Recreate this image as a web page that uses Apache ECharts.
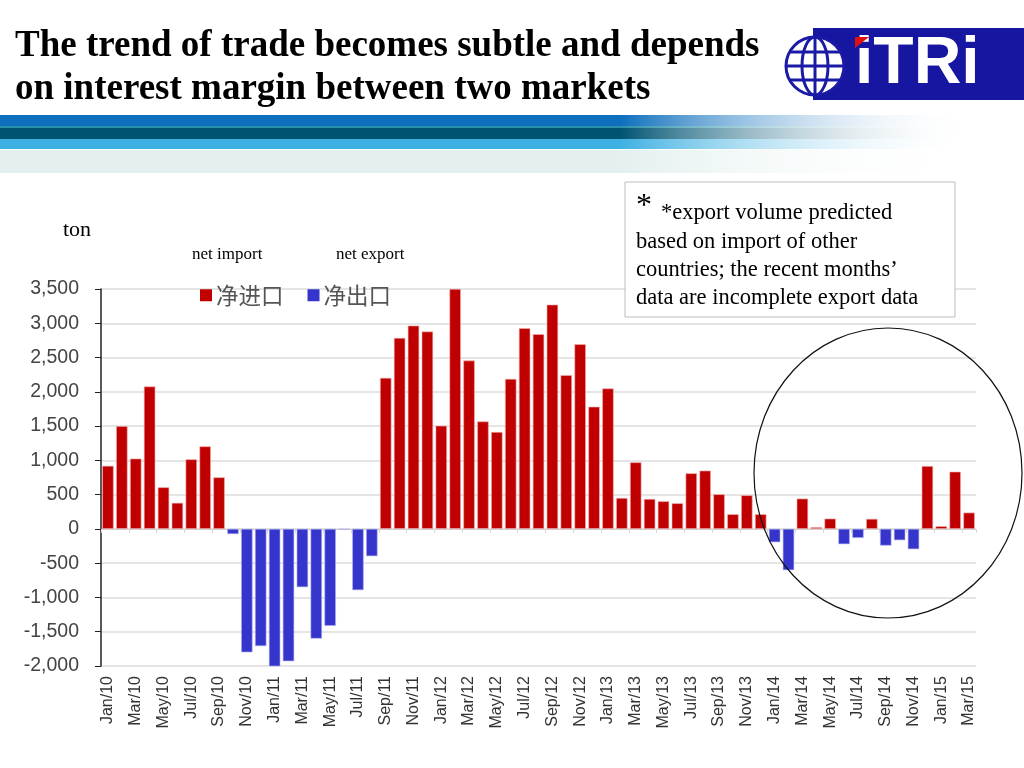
<!DOCTYPE html>
<html>
<head>
<meta charset="utf-8">
<script src="https://cdn.jsdelivr.net/npm/echarts@6/dist/echarts.min.js"></script>
<style>html,body{margin:0;padding:0;background:#fff}#c{width:1024px;height:768px}</style>
</head>
<body>
<div id="c"></div>
<script>
var months = ['Jan','Feb','Mar','Apr','May','Jun','Jul','Aug','Sep','Oct','Nov','Dec'];
var categories = [];
for (var y = 10; y <= 15; y++) {
  for (var m = 0; m < 12; m++) {
    if (y === 15 && m > 2) break;
    categories.push(months[m] + '/' + y);
  }
}
// net trade, tons (positive = net import, negative = net export)
var netValues = [
  920, 1500, 1025, 2078, 607, 380, 1015, 1204, 752, -75, -1800, -1710,
  -2025, -1930, -850, -1600, -1415, -10, -893, -398, 2204, 2786, 2966, 2879,
  1505, 3500, 2456, 1568, 1413, 2189, 2927, 2840, 3272, 2243, 2694, 1782,
  2049, 451, 971, 437, 403, 374, 811, 850, 505, 214, 490, 214,
  -194, -602, 442, 25, 150, -223, -131, 146, -243, -165, -296, 917,
  39, 835, 238
];
var seriesNames = ['净进口', '净出口'];
var seriesLabelsEn = ['net import', 'net export'];
var yTicks = { min: -2000, max: 3500, interval: 500 };

var importData = netValues.map(function (v) { return v >= 0 ? v : '-'; });
var exportData = netValues.map(function (v) { return v < 0 ? v : '-'; });

var chart = echarts.init(document.getElementById('c'), null, { renderer: 'canvas' });

function stripe(y, h, c1) {
  return {
    type: 'rect', shape: { x: 0, y: y, width: 1000, height: h }, silent: true, z: -1,
    style: { fill: new echarts.graphic.LinearGradient(0, 0, 1, 0, [
      { offset: 0, color: c1 }, { offset: 0.62, color: c1 }, { offset: 0.97, color: 'rgba(255,255,255,0)' }
    ]) }
  };
}

var globeCx = 815, globeCy = 66, globeR = 29;
var gs = { stroke: '#1a1aa6', lineWidth: 3 };
var globe = [
  { type: 'circle', shape: { cx: globeCx, cy: globeCy, r: globeR }, style: { fill: '#fff', stroke: '#1a1aa6', lineWidth: 3 } },
  { type: 'ellipse', shape: { cx: globeCx, cy: globeCy, rx: 13, ry: globeR }, style: { fill: 'none', stroke: '#1a1aa6', lineWidth: 3 } },
  { type: 'line', shape: { x1: globeCx, y1: globeCy - globeR, x2: globeCx, y2: globeCy + globeR }, style: gs },
  { type: 'line', shape: { x1: globeCx - globeR, y1: globeCy, x2: globeCx + globeR, y2: globeCy }, style: gs },
  { type: 'line', shape: { x1: globeCx - 25, y1: globeCy - 14, x2: globeCx + 25, y2: globeCy - 14 }, style: gs },
  { type: 'line', shape: { x1: globeCx - 25, y1: globeCy + 14, x2: globeCx + 25, y2: globeCy + 14 }, style: gs }
];

var serif = 'Liberation Serif, Times New Roman, serif';
var option = {
  animation: false,
  backgroundColor: '#fff',
  textStyle: { fontFamily: 'Liberation Sans, Arial, sans-serif' },
  legend: {
    left: 195, top: 279,
    itemWidth: 12, itemHeight: 12, itemGap: 24,
    icon: 'rect',
    itemStyle: { borderWidth: 0 },
    textStyle: { fontSize: 22.5, color: '#555', fontFamily: 'Noto Sans CJK SC', padding: [0, 0, 0, -1] },
    data: seriesNames
  },
  grid: { left: 101, right: 48, top: 289, bottom: 102, containLabel: false },
  xAxis: [{
    type: 'category', data: categories, position: 'bottom',
    axisLine: { show: false, onZero: false }, axisTick: { show: false },
    axisLabel: { rotate: 90, interval: 1, fontSize: 16, color: '#333', margin: 10, fontFamily: 'Liberation Sans, Arial' }
  }, {
    type: 'category', data: categories, position: 'bottom',
    axisLine: { show: true, onZero: true, lineStyle: { color: '#d0d0d0', width: 1 } },
    axisTick: { show: true, interval: 1, length: 4, lineStyle: { color: '#d8d8d8' } },
    axisLabel: { show: false }
  }],
  yAxis: {
    type: 'value', min: yTicks.min, max: yTicks.max, interval: yTicks.interval,
    axisLine: { show: true, lineStyle: { color: '#222', width: 1.5 } },
    axisTick: { show: true, length: 6, lineStyle: { color: '#222' } },
    axisLabel: { fontSize: 19.5, color: '#444', margin: 22, fontFamily: 'Liberation Sans, Arial',
      formatter: function (v) { return v.toLocaleString('en-US'); } },
    splitLine: { show: true, lineStyle: { color: '#dcdcdc', width: 1.5 } }
  },
  series: [{
    name: seriesNames[0], type: 'bar', stack: 'net', data: importData, barWidth: '82%',
    itemStyle: { color: '#c00000', borderColor: '#f2b0b0', borderWidth: 0.6 }, z: 3
  }, {
    name: seriesNames[1], type: 'bar', stack: 'net', data: exportData, barWidth: '82%',
    itemStyle: { color: '#3535cc', borderColor: '#b0b0f0', borderWidth: 0.6 }, z: 3
  }],
  graphic: [
    stripe(115, 11, '#0d6fbd'),
    stripe(126, 2, '#2a8fa8'),
    stripe(128, 11, '#005472'),
    stripe(139, 10, '#3fb0e2'),
    stripe(150, 23, '#e3f0ef'),
    { type: 'rect', shape: { x: 813, y: 28, width: 211, height: 72 }, style: { fill: '#1616a0' } }
  ].concat(globe).concat([
    { type: 'text', left: 855, top: 32, style: { text: 'iTRi', fill: '#fff', font: 'bold 66px Liberation Sans, Arial', letterSpacing: 5 } },
    { type: 'polygon', shape: { points: [[855, 37], [869, 37], [855, 48]] }, style: { fill: '#e01010' } },
    { type: 'text', left: 15, top: 28, style: { text: 'The trend of trade becomes subtle and depends', fill: '#000', font: 'bold 37px ' + serif } },
    { type: 'text', left: 15, top: 71, style: { text: 'on interest margin between two markets', fill: '#000', font: 'bold 37px ' + serif } },
    { type: 'text', left: 63, top: 219, style: { text: 'ton', fill: '#000', font: '22px ' + serif } },
    { type: 'text', left: 192, top: 246, style: { text: seriesLabelsEn[0], fill: '#000', font: '17px ' + serif } },
    { type: 'text', left: 336, top: 246, style: { text: seriesLabelsEn[1], fill: '#000', font: '17px ' + serif } },
    { type: 'rect', shape: { x: 625, y: 182, width: 330, height: 135 }, style: { fill: '#fff', stroke: '#bdbdbd', lineWidth: 1 }, z: 10 },
    { type: 'text', left: 636, top: 191, z: 11, style: { text: '*', fill: '#000', font: '32px ' + serif } },
    { type: 'text', left: 661, top: 202, z: 11, style: { text: '*export volume predicted', fill: '#000', font: '22.5px ' + serif } },
    { type: 'text', left: 636, top: 231, z: 11, style: { text: 'based on import of other', fill: '#000', font: '22.5px ' + serif } },
    { type: 'text', left: 636, top: 259, z: 11, style: { text: 'countries; the recent months\u2019', fill: '#000', font: '22.5px ' + serif } },
    { type: 'text', left: 636, top: 287, z: 11, style: { text: 'data are incomplete export data', fill: '#000', font: '22.5px ' + serif } },
    { type: 'ellipse', shape: { cx: 888, cy: 473, rx: 134, ry: 145 }, style: { fill: 'none', stroke: '#111', lineWidth: 1.2 }, z: 20 }
  ])
};
chart.setOption(option);
</script>
</body>
</html>
